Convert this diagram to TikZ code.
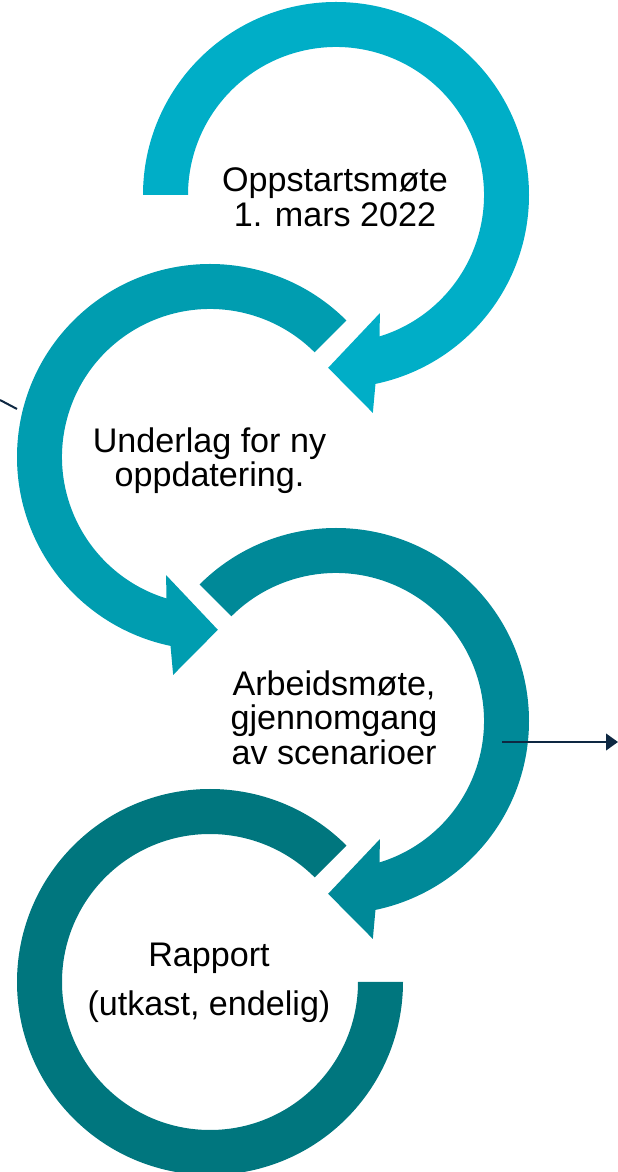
\documentclass[tikz,border=0pt]{standalone}
\usepackage{fontspec}
\setmainfont{Liberation Sans}
\usetikzlibrary{arrows.meta}

\definecolor{ringA}{RGB}{0,174,199}
\definecolor{ringB}{RGB}{0,157,176}
\definecolor{ringC}{RGB}{0,137,152}
\definecolor{ringD}{RGB}{0,118,126}
\definecolor{navy}{RGB}{14,40,66}

\begin{document}
\begin{tikzpicture}[x=0.75pt,y=0.75pt,
  steptext/.style={align=center,text=black,font=\fontsize{25.6}{25.9}\selectfont},
  navyline/.style={draw=navy,line width=1.5pt}]

\useasboundingbox (0,0) rectangle (618,1172);

% Ring 1
\begin{scope}[shift={(336,977)}]
\fill[ringA] (180:193) arc[start angle=180,end angle=-78.2,radius=193]
  -- (-80.4:221) -- (-92.6:173) -- (-69.6:126)
  -- (-72.9:148) arc[start angle=-72.9,end angle=180,radius=148] -- cycle;
\end{scope}

% Ring 2
\begin{scope}[shift={(210,715)}]
\fill[ringB] (45:193) arc[start angle=45,end angle=258.2,radius=193]
  -- (260.4:221) -- (272.6:173) -- (249.6:126)
  -- (252.9:148) arc[start angle=252.9,end angle=45,radius=148] -- cycle;
\end{scope}

% Ring 3
\begin{scope}[shift={(336,451)}]
\fill[ringC] (135:193) arc[start angle=135,end angle=-78.2,radius=193]
  -- (-80.4:221) -- (-92.6:173) -- (-69.6:126)
  -- (-72.9:148) arc[start angle=-72.9,end angle=135,radius=148] -- cycle;
\end{scope}

% Ring 4
\begin{scope}[shift={(210,190)}]
\fill[ringD] (45:193) arc[start angle=45,end angle=360,radius=193]
  -- (0:148) arc[start angle=360,end angle=45,radius=148] -- cycle;
\end{scope}

% Texts
\path
(335,975)     node[steptext] (t1) {Oppstartsmøte\\1. mars 2022}
(209.5,711.5) node[steptext] (t2) {Underlag for ny\\oppdatering.}
(334,454.5)   node[steptext] (t3) {Arbeidsmøte,\\gjennomgang\\av scenarioer}
(209,189)     node[steptext] (t4) {Rapport\\[11pt](utkast, endelig)}
;

% Lines
\coordinate (l1) at (0,772);
\coordinate (l2) at (17,763);
\coordinate (r1) at (502,430);
\coordinate (r2) at (618,430);
\draw[navyline] (l1)--(l2);
\draw[navyline,-{Triangle[length=9pt,width=12.5pt]}] (r1)--(r2);

\end{tikzpicture}
\end{document}
